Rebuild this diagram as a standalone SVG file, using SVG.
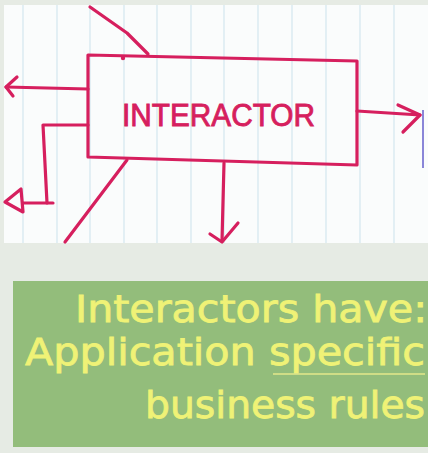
<svg xmlns="http://www.w3.org/2000/svg" width="428" height="453" viewBox="0 0 428 453">
  <style>
    .ink { fill: none; stroke: #d61f5e; stroke-width: 3.2; stroke-linecap: round; stroke-linejoin: round; }
    .grid { stroke: #d3e6ee; stroke-width: 1.2; }
    .label { font-family: "Liberation Sans", Arial, sans-serif; font-size: 31px; fill: #d61f5e; stroke: #d61f5e; stroke-width: 0.9; }
    .note { font-family: "DejaVu Sans", "Liberation Sans", sans-serif; font-size: 38px; fill: #eff276; stroke: #eff276; stroke-width: 0.8; }
  </style>

  <!-- backdrop -->
  <rect x="0" y="0" width="428" height="453" fill="#e6ebe4"/>

  <!-- grid paper -->
  <g id="paper">
    <rect x="4" y="5" width="424" height="238" fill="#fafcfc"/>
    <g class="grid">
      <line x1="23" y1="5" x2="23" y2="243"/>
      <line x1="57" y1="5" x2="57" y2="243"/>
      <line x1="90" y1="5" x2="90" y2="243"/>
      <line x1="124" y1="5" x2="124" y2="243"/>
      <line x1="157" y1="5" x2="157" y2="243"/>
      <line x1="191" y1="5" x2="191" y2="243"/>
      <line x1="224" y1="5" x2="224" y2="243"/>
      <line x1="258" y1="5" x2="258" y2="243"/>
      <line x1="292" y1="5" x2="292" y2="243"/>
      <line x1="326" y1="5" x2="326" y2="243"/>
      <line x1="360" y1="5" x2="360" y2="243"/>
      <line x1="394" y1="5" x2="394" y2="243"/>
    </g>
    <line x1="423" y1="110" x2="423" y2="168" stroke="#8a86d8" stroke-width="2"/>
  </g>

  <!-- interactor box -->
  <g id="interactor">
    <path class="ink" d="M88,55 L357,61 L357,165 L88,157 Z"/>
    <circle cx="123" cy="58" r="2.2" fill="#d61f5e"/>
    <text class="label" x="122" y="126" textLength="193" lengthAdjust="spacingAndGlyphs">INTERACTOR</text>
  </g>

  <!-- connectors -->
  <g id="connectors" class="ink">
    <!-- incoming from top-left -->
    <path d="M90,7 L127,33 L148,54"/>
    <!-- left output -->
    <path d="M88,89 L6,87"/>
    <path d="M17,77 L6,87 L13,96"/>
    <!-- lower-left output with hollow head -->
    <path d="M88,125 L43,125 L47,203"/>
    <path d="M53,203 L23,203"/>
    <path d="M5,202 L21,189 L23,212 Z"/>
    <!-- diagonal from bottom -->
    <path d="M127,160 L65,242"/>
    <!-- down output -->
    <path d="M224,163 L222,241"/>
    <path d="M210,234 L222,242 L238,223"/>
    <!-- right output -->
    <path d="M357,111 L420,115"/>
    <path d="M398,105 L420,115 L403,132"/>
  </g>

  <!-- note panel -->
  <g id="note">
    <rect x="13" y="281" width="415" height="166" fill="#93bd7b"/>
    <text class="note" x="427" y="322" text-anchor="end" textLength="352" lengthAdjust="spacingAndGlyphs">Interactors have:</text>
    <text class="note" x="425" y="365" text-anchor="end" textLength="400" lengthAdjust="spacingAndGlyphs">Application specific</text>
    <line x1="273" y1="374" x2="425" y2="374" stroke="#e3e98a" stroke-width="1.5"/>
    <text class="note" x="425" y="418" text-anchor="end" textLength="280" lengthAdjust="spacingAndGlyphs">business rules</text>
  </g>
</svg>
